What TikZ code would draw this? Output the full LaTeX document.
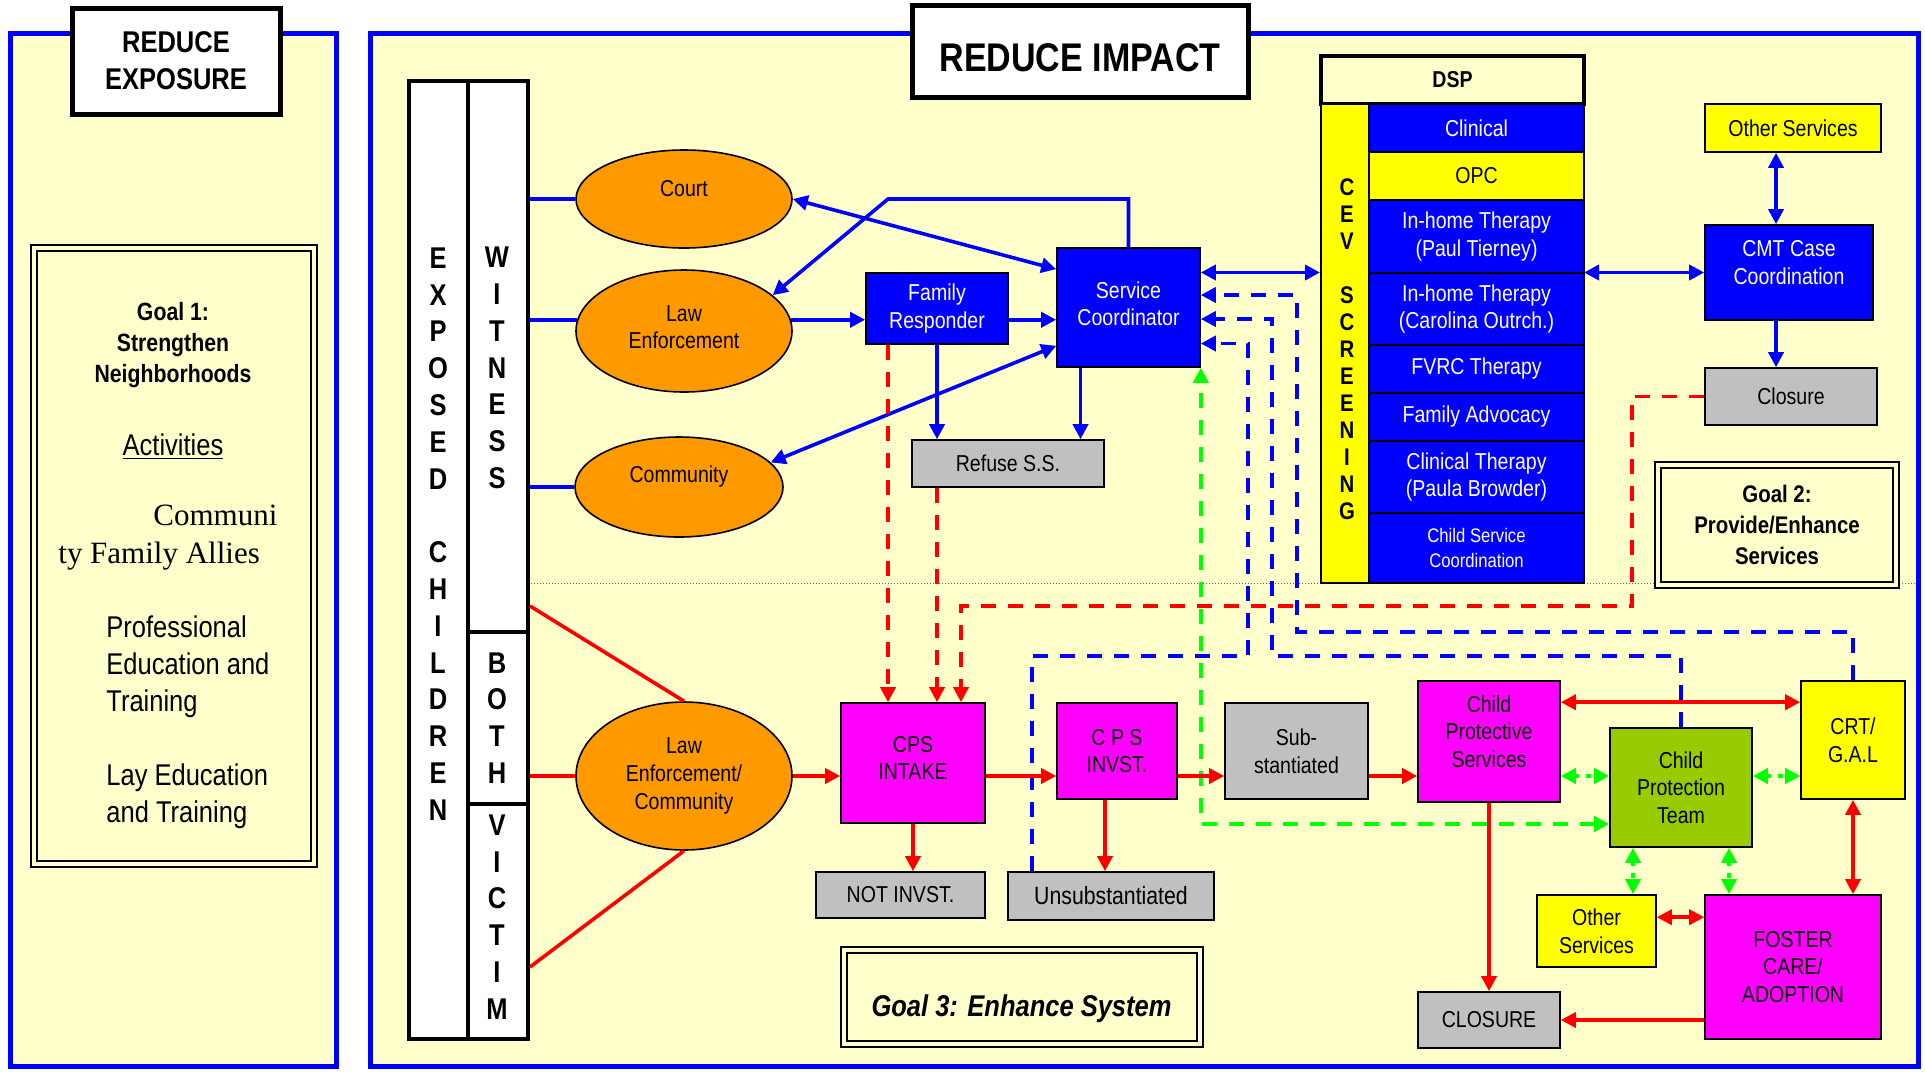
\documentclass[tikz,border=0pt]{standalone}
\usepackage{fontspec}
\setmainfont{Liberation Sans}[FakeStretch=0.85]
\newfontfamily\timesfont{Liberation Serif}
\usepackage{tikz}
\usetikzlibrary{arrows.meta,shapes.geometric,positioning}

\definecolor{paleyellow}{RGB}{255,255,204}
\definecolor{agencyorange}{RGB}{255,153,0}
\definecolor{teamgreen}{RGB}{153,204,0}
\definecolor{linkgreen}{RGB}{0,255,0}
\definecolor{outgray}{RGB}{192,192,192}
\definecolor{puremagenta}{RGB}{255,0,255}
\definecolor{pureblue}{RGB}{0,0,255}
\definecolor{pureyellow}{RGB}{255,255,0}
\definecolor{purered}{RGB}{255,0,0}

\newcommand{\boxfont}{\fontsize{11.5}{13.8}\selectfont}
\newcommand{\colfont}{\fontsize{15}{18.4}\selectfont\bfseries}

\begin{document}
\begin{tikzpicture}[x=0.5pt,y=-0.5pt,
	>={Triangle[length=7.5pt,width=7.5pt]},
	panel/.style={draw=pureblue,fill=paleyellow,line width=2.5pt},
	heading/.style={draw,fill=white,line width=2.5pt,align=center},
	goalbox/.style={draw,double=paleyellow,double distance=2pt,line width=1pt,fill=paleyellow,align=center},
	col/.style={draw,fill=white,line width=2pt,inner sep=0pt},
	txt/.style={inner sep=0pt,align=center},
	agency/.style={draw,ellipse,fill=agencyorange,line width=0.8pt,inner sep=0pt,align=center,font=\boxfont},
	bbox/.style={draw,fill=pureblue,text=white,line width=0.8pt,inner sep=1pt,align=center,font=\boxfont},
	gbox/.style={draw,fill=outgray,line width=0.8pt,inner sep=1pt,align=center,font=\boxfont},
	mbox/.style={draw,fill=puremagenta,line width=0.8pt,inner sep=1pt,align=center,font=\boxfont},
	ybox/.style={draw,fill=pureyellow,line width=0.8pt,inner sep=1pt,align=center,font=\boxfont},
	tbox/.style={draw,fill=teamgreen,line width=0.8pt,inner sep=1pt,align=center,font=\boxfont},
	row/.style={outer sep=0pt,minimum width=107.5pt},
	bline/.style={pureblue,line width=1.8pt},
	rline/.style={purered,line width=1.8pt},
	bdash/.style={pureblue,line width=1.8pt,dash pattern=on 7.5pt off 6pt},
	rdash/.style={purered,line width=1.8pt,dash pattern=on 7.5pt off 6pt},
	gdash/.style={linkgreen,line width=1.8pt,dash pattern=on 7.5pt off 6pt},
	gdot/.style={linkgreen,line width=2.2pt,dash pattern=on 2.2pt off 3.5pt}]
	\useasboundingbox (0,0) rectangle (1925,1072);
	
	\draw[panel] (10,33) rectangle (336,1066);
	\draw[panel] (370,33) rectangle (1918,1066);
	\draw[black!60, densely dotted, line width=0.5pt] (528,583) -- (1916,583);
	
	% reduce exposure
	\node[heading, minimum width=104pt, minimum height=53pt, font=\fontsize{15}{18.4}\selectfont\bfseries](TITLE1) at (176,61){REDUCE\\EXPOSURE};
	\node[goalbox, minimum width=140pt, minimum height=308pt](GOAL1) at (174,556){};
	\node[txt, font=\fontsize{12.5}{15.4}\selectfont\bfseries](G1TXT) at (173,345){Goal 1:\\Strengthen\\Neighborhoods};
	\node[txt, font=\fontsize{15}{18}\selectfont](ACT) at (173,447){\underline{Activities}};
	\node[txt, align=left, anchor=west, font=\timesfont\fontsize{15.5}{19}\selectfont](ALLIES) at (58,538){\hspace*{47.5pt}Communi\\ty Family Allies};
	\node[txt, align=left, anchor=west, font=\fontsize{15}{18.5}\selectfont](PROF) at (106,667){Professional\\Education and\\Training};
	\node[txt, align=left, anchor=west, font=\fontsize{15}{18.5}\selectfont](LAY) at (106,796){Lay Education\\and Training};
	
	% reduce impact
	\node[heading, minimum width=168pt, minimum height=46pt, text height=21pt, font=\fontsize{20}{24}\selectfont\bfseries](TITLE2) at (1080,51){REDUCE IMPACT};
	
	\node[col, minimum width=29.5pt, minimum height=479pt](EXP) at (438.5,560){};
	\node[col, minimum width=30pt, minimum height=275.5pt](WIT) at (498,356.5){};
	\node[col, minimum width=30pt, minimum height=86pt](BOTH) at (498,718){};
	\node[col, minimum width=30pt, minimum height=117.5pt](VIC) at (498,921.5){};
	\node[txt, font=\colfont](EXPTXT) at (438,534){E\\X\\P\\O\\S\\E\\D\\[18.4pt]C\\H\\I\\L\\D\\R\\E\\N};
	\node[txt, font=\colfont](WITTXT) at (497,368){W\\I\\T\\N\\E\\S\\S};
	\node[txt, font=\colfont](BOTHTXT) at (497,718){B\\O\\T\\H};
	\node[txt, font=\colfont](VICTXT) at (497,917){V\\I\\C\\T\\I\\M};
	
	\node[agency, minimum width=108pt, minimum height=49pt, text depth=11pt](COURT) at (684,199){Court};
	\node[agency, minimum width=108pt, minimum height=61pt, text depth=4pt](LAW1) at (684,331){Law\\Enforcement};
	\node[agency, minimum width=104pt, minimum height=50pt, text depth=13pt](COMM) at (679,487){Community};
	\node[agency, minimum width=108pt, minimum height=74pt](LAW2) at (684,776){Law\\Enforcement/\\Community};
	
	\node[bbox, minimum width=71pt, minimum height=35.5pt](FAM) at (937,308.5){Family\\Responder};
	\node[bbox, minimum width=71.5pt, minimum height=59.5pt, text depth=4pt](SERV) at (1128.5,307.5){Service\\Coordinator};
	\node[gbox, minimum width=96pt, minimum height=23.5pt](REF) at (1008,463.5){Refuse S.S.};
	
	% DSP stack
	\node[draw, fill=paleyellow, line width=1.8pt, minimum width=131.5pt, minimum height=24pt, font=\boxfont\bfseries](DSP) at (1452.5,80){DSP};
	\node[draw, fill=pureyellow, line width=1pt, minimum width=24pt, minimum height=239.5pt](CEV) at (1345,343.5){};
	\node[txt, font=\fontsize{12}{13.5}\selectfont\bfseries](CEVTXT) at (1347,349){C\\E\\V\\[13.5pt]S\\C\\R\\E\\E\\N\\I\\N\\G};
	\node[bbox, row, minimum height=24pt](ROW1) at (1476.5,128){Clinical};
	\node[ybox, row, minimum height=24pt, below=0pt of ROW1](ROW2){OPC};
	\node[bbox, row, minimum height=36.5pt, below=0pt of ROW2](ROW3){In-home Therapy\\(Paul Tierney)};
	\node[bbox, row, minimum height=36pt, below=0pt of ROW3](ROW4){In-home Therapy\\(Carolina Outrch.)};
	\node[bbox, row, minimum height=24pt, below=0pt of ROW4](ROW5){FVRC Therapy};
	\node[bbox, row, minimum height=24pt, below=0pt of ROW5](ROW6){Family Advocacy};
	\node[bbox, row, minimum height=36pt, below=0pt of ROW6](ROW7){Clinical Therapy\\(Paula Browder)};
	\node[bbox, row, minimum height=35pt, below=0pt of ROW7, font=\fontsize{9.8}{12.3}\selectfont](ROW8){Child Service\\Coordination};
	
	\node[ybox, minimum width=88pt, minimum height=24pt](OTH1) at (1793,128){Other Services};
	\node[bbox, minimum width=84pt, minimum height=47.5pt, text depth=10pt](CMT) at (1789,272.5){CMT Case\\Coordination};
	\node[gbox, minimum width=86pt, minimum height=28.5pt](CLOS1) at (1791,396.5){Closure};
	\node[goalbox, minimum width=119pt, minimum height=60pt, font=\fontsize{12}{15.3}\selectfont\bfseries](GOAL2) at (1777,525){Goal 2:\\Provide/Enhance\\Services};
	
	% lower flow
	\node[mbox, minimum width=72pt, minimum height=60pt, text depth=5pt](INT) at (913,763){CPS\\INTAKE};
	\node[mbox, minimum width=60pt, minimum height=48pt](INV) at (1117,751){C P S\\INVST.};
	\node[gbox, minimum width=71.5pt, minimum height=48pt](SUB) at (1296.5,751){Sub-\\stantiated};
	\node[mbox, minimum width=71pt, minimum height=60.5pt, text depth=10pt](CPS) at (1489,741.5){Child\\Protective\\Services};
	\node[tbox, minimum width=71pt, minimum height=59.5pt](CPT) at (1681,787.5){Child\\Protection\\Team};
	\node[ybox, minimum width=52pt, minimum height=59pt](CRT) at (1853,740){CRT/\\G.A.L};
	\node[gbox, minimum width=84.5pt, minimum height=23pt](NOTINV) at (900.5,895){NOT INVST.};
	\node[gbox, minimum width=103pt, minimum height=24pt, font=\fontsize{12.5}{15}\selectfont](UNSUB) at (1111,896){Unsubstantiated};
	\node[goalbox, minimum width=178pt, minimum height=47pt](GOAL3) at (1021.5,997){};
	\node[txt, font=\fontsize{15}{18}\selectfont\bfseries\itshape](G3TXT) at (1021.5,1009){Goal 3: Enhance System};
	\node[ybox, minimum width=59.5pt, minimum height=36pt](OTH2) at (1596.5,931){Other\\Services};
	\node[mbox, minimum width=88pt, minimum height=72pt](FOST) at (1793,967){FOSTER\\CARE/\\ADOPTION};
	\node[gbox, minimum width=71pt, minimum height=28pt](CLOS2) at (1489,1020){CLOSURE};
	
	\coordinate (ROWY) at (0,776);
	\coordinate (KINK) at (888,199);
	\coordinate (RBEND) at (1632,606);
	\coordinate (BBEND1) at (1297,632);
	\coordinate (BBEND2) at (1272,656);
	\coordinate (BBEND3) at (1248,656);
	\coordinate (GX1) at (1633,0);
	\coordinate (GX2) at (1729,0);
	
	\draw[bline] (WIT.east |- COURT.west) -- (COURT.west);
	\draw[bline] (WIT.east |- LAW1.174) -- (LAW1.174);
	\draw[bline] (WIT.east |- COMM.west) -- (COMM.west);
	
	\draw[bline,->] (SERV.north) |- (KINK) -- (LAW1.22);
	\draw[bline,<->] (COURT.east) -- ([yshift=-11pt]SERV.north west);
	\draw[bline,->] (LAW1.6) -- (LAW1.6 -| FAM.west);
	\draw[bline,->] (LAW1.6 -| FAM.east) -- (LAW1.6 -| SERV.west);
	\draw[bline,<->] (COMM.15) -- ([yshift=11pt]SERV.south west);
	\draw[bline,->] (FAM.south) -- (FAM.south |- REF.north);
	\draw[bline,->] ([xshift=-24pt]SERV.south) coordinate (SD) -- (SD |- REF.north);
	\draw[bline,<->] (CMT.west -| SERV.east) -- (CMT.west -| CEV.west);
	\draw[bline,<->] (CMT.west -| ROW4.east) -- (CMT.west);
	\draw[bline,<->] ([xshift=-8.5pt]OTH1.south) -- ([xshift=-6.5pt]CMT.north);
	\draw[bline,->] ([xshift=-6.5pt]CMT.south) -- ([xshift=-7.5pt]CLOS1.north);
	
	\draw[bdash,->] (CRT.north) |- (BBEND1) |- ([yshift=6.25pt]SERV.east);
	\draw[bdash,->] (CPT.north) |- (BBEND2) |- ([yshift=-5.75pt]SERV.east);
	\draw[bdash,->] ([xshift=-39.5pt]UNSUB.north) |- (BBEND3) |- ([yshift=-18pt]SERV.east);
	
	\draw[rdash,->] ([xshift=-24.5pt]FAM.south) coordinate (FD) -- (FD |- INT.north);
	\draw[rdash,->] ([xshift=-35.5pt]REF.south) coordinate (RD) -- (RD |- INT.north);
	\draw[rdash,->] (CLOS1.west) -| (RBEND) -| ([xshift=24pt]INT.north);
	
	\draw[gdash,<->] ([yshift=-18.25pt]CPT.west) -| (SERV.south east);
	\draw[gdot,<->] (CPS.east |- ROWY) -- (CPT.west |- ROWY);
	\draw[gdot,<->] (CPT.east |- ROWY) -- (CRT.west |- ROWY);
	\draw[gdot,<->] (CPT.south -| GX1) -- (OTH2.north -| GX1);
	\draw[gdot,<->] (CPT.south -| GX2) -- (FOST.north -| GX2);
	
	\draw[rline] ([yshift=12pt]BOTH.north east) -- (LAW2.north);
	\draw[rline] (BOTH.east |- ROWY) -- (LAW2.west);
	\draw[rline] ([yshift=-22.75pt]VIC.east) -- (LAW2.south);
	\draw[rline,->] (LAW2.east) -- (INT.west |- ROWY);
	\draw[rline,->] (INT.east |- ROWY) -- (INV.west |- ROWY);
	\draw[rline,->] (INV.east |- ROWY) -- (SUB.west |- ROWY);
	\draw[rline,->] (SUB.east |- ROWY) -- (CPS.west |- ROWY);
	\draw[rline,->] (INT.south) -- (INT.south |- NOTINV.north);
	\draw[rline,->] ([xshift=-6pt]INV.south) coordinate (ID) -- (ID |- UNSUB.north);
	\draw[rline,<->] ([yshift=-11pt]CPS.north east) coordinate (CR) -- (CR -| CRT.west);
	\draw[rline,->] (CPS.south) -- (CPS.south |- CLOS2.north);
	\draw[rline,<->] (CRT.south) -- (CRT.south |- FOST.north);
	\draw[rline,<->] ([yshift=-11.5pt]OTH2.north east) coordinate (OR) -- (OR -| FOST.west);
	\draw[rline,->] (FOST.west |- CLOS2.east) -- (CLOS2.east);
\end{tikzpicture}
\end{document}
